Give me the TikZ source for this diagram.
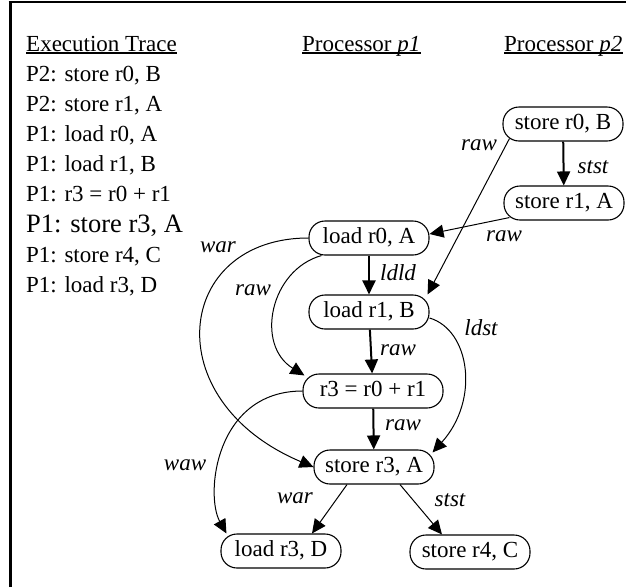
\documentclass[tikz,border=0pt]{standalone}
\usepackage{fontspec}
\setmainfont{Liberation Serif}
\usetikzlibrary{arrows.meta}
\begin{document}
\begin{tikzpicture}[x=1pt,y=-1pt,
  op/.style={draw, line width=1.1pt, rounded corners=16pt, minimum width=120pt,
    minimum height=34pt, text height=16pt, text depth=5pt, inner xsep=8pt,
    font=\fontsize{23}{27}\selectfont},
  lbl/.style={font=\fontsize{23}{27}\selectfont\itshape, inner sep=0pt},
  txt/.style={font=\fontsize{23}{27}\selectfont, inner sep=0pt, anchor=base west},
  thickedge/.style={-{Triangle[width=13pt,length=14pt]}, line width=2pt},
  thinedge/.style={-{Triangle[width=13pt,length=14pt]}, line width=1pt},
  uline/.style={line width=1.3pt}]
\useasboundingbox (0,0) rectangle (626,587);
% frame
\draw[line width=3pt] (10,587) -- (10,1);
\draw[line width=2pt] (8.5,2) -- (626,2);
% titles
\node[txt] (tET) at (26,51) {Execution Trace};
\node[txt] (tP1) at (302,51) {Processor \textit{p1}};
\node[txt] (tP2) at (504,51) {Processor \textit{p2}};
\draw[uline] ([yshift=-2pt]tET.base west) -- ([yshift=-2pt]tET.base east);
\draw[uline] ([yshift=-2pt]tP1.base west) -- ([yshift=-2pt]tP1.base east);
\draw[uline] ([yshift=-2pt]tP2.base west) -- ([yshift=-2pt]tP2.base east);
% trace
\node[txt] (e1) at (26,81) {P2: store r0, B};
\node[txt] (e2) at (26,111) {P2: store r1, A};
\node[txt] (e3) at (26,141) {P1: load r0, A};
\node[txt] (e4) at (26,171) {P1: load r1, B};
\node[txt] (e5) at (26,201) {P1: r3 = r0 + r1};
\node[txt, font=\fontsize{26.5}{30}\selectfont] (e6) at (26,232) {P1: store r3, A};
\node[txt] (e7) at (26,262) {P1: store r4, C};
\node[txt] (e8) at (26,292) {P1: load r3, D};
% nodes
\node[op] (s0B) at (563,124) {store r0, B};
\node[op] (s1A) at (564,203) {store r1, A};
\node[op] (l0A) at (369,238) {load r0, A};
\node[op] (l1B) at (369,312) {load r1, B};
\node[op, minimum width=140pt] (r3) at (373,391) {r3 = r0 + r1};
\node[op] (s3A) at (374,467) {store r3, A};
\node[op] (l3D) at (281,551) {load r3, D};
\node[op] (s4C) at (470,552) {store r4, C};
% edges
\draw[thickedge] (s0B) -- (s1A);
\draw[thinedge] ([xshift=6pt,yshift=3pt]s1A.south west) -- ([yshift=4pt]l0A.east);
\draw[thinedge] ([xshift=7pt,yshift=3pt]s0B.south west) -- ([xshift=-2pt]l1B.north east);
\draw[thickedge] (l0A) -- (l1B);
\draw[thickedge] (l1B) -- (r3);
\draw[thickedge] (r3) -- (s3A);
\draw[thinedge] (l0A.west) .. controls (175,238) and (155,400) .. (s3A.west);
\draw[thinedge] ([xshift=13pt]l0A.south west) .. controls (270,270) and (255,345) .. ([xshift=2pt,yshift=-2pt]r3.north west);
\draw[thinedge] ([yshift=-6pt]l1B.east) .. controls (470,330) and (480,400) .. ([xshift=-2pt,yshift=-3pt]s3A.north east);
\draw[thinedge] (r3.west) .. controls (215,391) and (205,495) .. ([xshift=6pt]l3D.north west);
\draw[thinedge] ([xshift=-27pt]s3A.south) -- ([xshift=31pt]l3D.north);
\draw[thinedge] ([xshift=26pt]s3A.south) -- ([xshift=-28pt]s4C.north);
% labels
\node[lbl] (Lraw1) at (479,145) {raw};
\node[lbl] (Lstst1) at (593,167) {stst};
\node[lbl] (Lraw2) at (504,236) {raw};
\node[lbl] (Lldld) at (398,273) {ldld};
\node[lbl] (Lwar1) at (218,247) {war};
\node[lbl] (Lraw3) at (253,290) {raw};
\node[lbl] (Lldst) at (481,328) {ldst};
\node[lbl] (Lraw4) at (398,350) {raw};
\node[lbl] (Lraw5) at (403,425) {raw};
\node[lbl] (Lwaw) at (185,465) {waw};
\node[lbl] (Lwar2) at (295,498) {war};
\node[lbl] (Lstst2) at (450,500) {stst};
\end{tikzpicture}
\end{document}
